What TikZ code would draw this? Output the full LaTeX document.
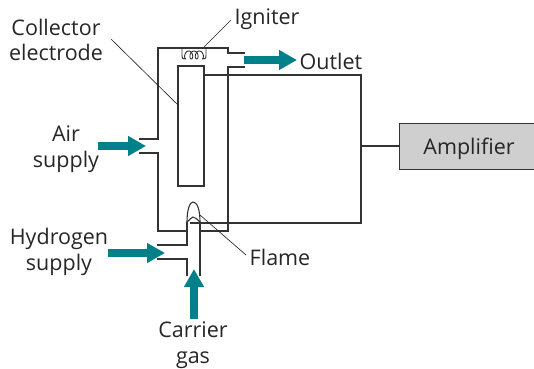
\documentclass[tikz,border=0pt]{standalone}
\usepackage{fontspec}
\setmainfont{Open Sans}
\usetikzlibrary{positioning,arrows.meta}
\definecolor{tealflow}{RGB}{0,128,136}
\begin{document}
\begin{tikzpicture}[
  x=1pt,y=-1pt,
  wall/.style={draw=black!80,line width=1.1pt},
  leader/.style={draw=black!85,line width=0.65pt},
  flow/.style={draw=tealflow,line width=7.5pt,-{Triangle[length=18pt,width=19pt]}},
  lbl/.style={align=center,inner sep=0pt,text=black!85,font=\fontsize{21.5}{25.5}\selectfont}]
\useasboundingbox (0,0) rectangle (534,368);
\node[draw=black!80,line width=0.7pt,fill=black!19,minimum width=140pt,minimum height=46pt,inner sep=0pt,text depth=0pt,font=\fontsize{21.5}{25}\selectfont,text=black!85] (amp) at (469,146) {Amplifier};
\node[lbl] (collector) at (56,40) {Collector\\electrode};
\node[lbl] (igniter) at (267,19) {Igniter};
\node[lbl] (outlet) at (331,61) {Outlet};
\node[lbl] (air) at (66,149) {Air\\supply};
\node[lbl] (hydrogen) at (59,252) {Hydrogen\\supply};
\node[lbl] (flame) at (280,257) {Flame};
\node[lbl] (carrier) at (193,345) {Carrier\\gas};
% housing
\draw[wall] (139,139) -- (158,139) -- (158,48) -- (228,48) -- (228,53) -- (245,53);
\draw[wall] (245,67) -- (228,67) -- (228,231) -- (200,231);
\draw[wall] (139,153) -- (158,153) -- (158,231) -- (187,231);
% electrode
\draw[wall] (178,66) rectangle (204,186);
% burner
\draw[wall] (157,245) -- (187,245) -- (187,222);
\draw[wall] (157,259) -- (187,259) -- (187,276);
\draw[wall] (200,222) -- (200,276);
% flame
\draw[wall] (187,222) .. controls (187,209) and (190,202) .. (193,202) .. controls (197,202) and (200,209) .. (200,222);
\draw[wall] (187,222) .. controls (190,220) and (191,217) .. (193,217) .. controls (196,217) and (197,220) .. (200,222);
% igniter
\draw[wall,line width=0.9pt] (182,48) -- (182,55) .. controls (182,59) and (183,59) .. (186,59)
  -- plot[smooth,samples=61,domain=0:1080] ({186+\x/1080*16-2.6*sin(\x)},{55+4*cos(\x)})
  .. controls (205,59) and (206,59) .. (206,55) -- (206,48);
% wires to the amplifier
\coordinate (top) at (204,75);
\coordinate (bot) at (190,223);
\coordinate (join) at (361,146);
\draw[wall] (top) -- (361,75) -- (361,223) -- (bot);
\draw[wall] (join) -- (join -| amp.west);
% leaders
\coordinate (collectorend) at (178,105);
\coordinate (igniterend) at (204,47);
\coordinate (flameend) at (200,215);
\draw[leader] (111,39) -- (collectorend);
\draw[leader] (231,20) -- (igniterend);
\draw[leader] (246,255) -- (flameend);
% flows
\coordinate (outtip) at (297,60);
\coordinate (airtip) at (146,146);
\coordinate (hydtip) at (165,253);
\coordinate (cartip) at (194,269);
\draw[flow] (244,60) -- (outtip);
\draw[flow] (98,146) -- (airtip);
\draw[flow] (108,253) -- (hydtip);
\draw[flow] (194,319) -- (cartip);
\end{tikzpicture}
\end{document}
